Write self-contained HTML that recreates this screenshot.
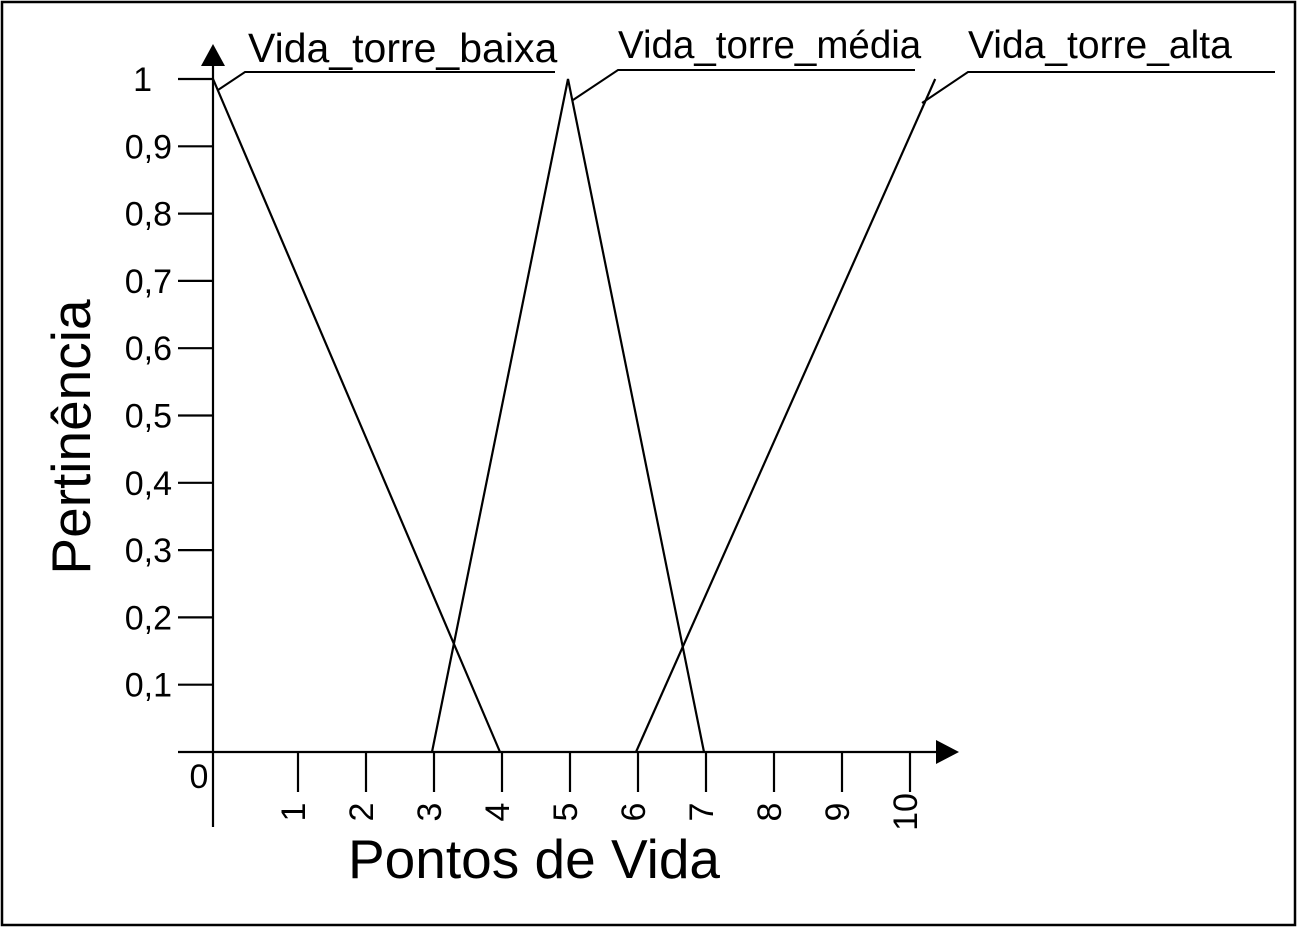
<!DOCTYPE html>
<html><head><meta charset="utf-8"><style>
html,body{margin:0;padding:0;background:#fff}
svg{display:block}
text{font-family:"Liberation Sans",sans-serif;fill:#000}
</style></head><body>
<svg width="1297" height="927" viewBox="0 0 1297 927">
<rect x="2" y="2" width="1293" height="923" fill="none" stroke="#000" stroke-width="2.5"/>
<g id="axes" stroke="#000" stroke-width="2.2" fill="none"></g>
<g id="marks" stroke="#000" stroke-width="2.2" fill="none"></g>
<g id="labels"></g>
<text x="90" y="437" font-size="55" text-anchor="middle" transform="rotate(-90 90 437)">Pertinência</text>
<text x="534" y="878" font-size="55" text-anchor="middle">Pontos de Vida</text>
</svg>
<script>
const xTicks=[1,2,3,4,5,6,7,8,9,10];
const yTicks=[0.1,0.2,0.3,0.4,0.5,0.6,0.7,0.8,0.9,1];
const yTickLabels=["0,1","0,2","0,3","0,4","0,5","0,6","0,7","0,8","0,9","1"];
const seriesNames=["Vida_torre_baixa","Vida_torre_média","Vida_torre_alta"];
const baixaX=[-0.22,4], baixaY=[1,0];
const mediaX=[3,5,7], mediaY=[0,1,0];
const altaX=[6,10.4], altaY=[0,1];
const xS=v=>228+68*v;
const yS=v=>752-673*v;
const NS="http://www.w3.org/2000/svg";
function mk(tag,attrs,parent){const e=document.createElementNS(NS,tag);for(const k in attrs)e.setAttribute(k,attrs[k]);parent.appendChild(e);return e;}
const ax=document.getElementById('axes'),mk2=document.getElementById('marks'),lb=document.getElementById('labels');
let e=mk('line',{x1:213,y1:62,x2:213,y2:827},ax);


e=mk('line',{x1:178,y1:752,x2:942,y2:752},ax);


e=mk('polygon',{points:'201,66 225,66 213,44',fill:'#000',stroke:'none'},ax);


e=mk('polygon',{points:'936,740 936,764 959,752',fill:'#000',stroke:'none'},ax);


e=mk('text',{x:199,y:788,'font-size':34,'text-anchor':'middle'},lb);e.textContent='0';


xTicks.forEach(v=>{
 const x=xS(v)+2;
 let t=mk('line',{x1:x,y1:752,x2:x,y2:792},ax);
 
 
 let l=mk('text',{x:x,y:812,'font-size':34,'text-anchor':'middle',transform:`rotate(-90 ${x} 812) translate(0 7)`},lb);
 l.textContent=String(v);
 
 
});
yTicks.forEach((v,i)=>{
 const y=yS(v);
 let t=mk('line',{x1:178,y1:y,x2:213,y2:y},ax);
 
 
 let l=mk('text',{x:v===1?152:172,y:y+12,'font-size':34,'text-anchor':'end'},lb);
 l.textContent=yTickLabels[i];
 
 
});
function series(xs,ys,name){
 const p=mk('polyline',{points:xs.map((x,i)=>xS(x)+','+yS(ys[i])).join(' ')},mk2);
 
 
}
series(baixaX,baixaY,'line-baixa');
series(mediaX,mediaY,'line-media');
series(altaX,altaY,'line-alta');
const leaders=[[218,90,245,72,555,248,62,41],[573,100,618,70,915,618,58,38.5],[922,103,968,72,1275,968,58,39]];
leaders.forEach((L,i)=>{
 const p=mk('polyline',{points:`${L[0]},${L[1]} ${L[2]},${L[3]} ${L[4]},${L[3]}`,stroke:'#000','stroke-width':2,fill:'none'},lb);
 
 
 const t=mk('text',{x:L[5],y:L[6],'font-size':L[7]},lb);
 t.textContent=seriesNames[i];
 
 
});
</script>
</body></html>
